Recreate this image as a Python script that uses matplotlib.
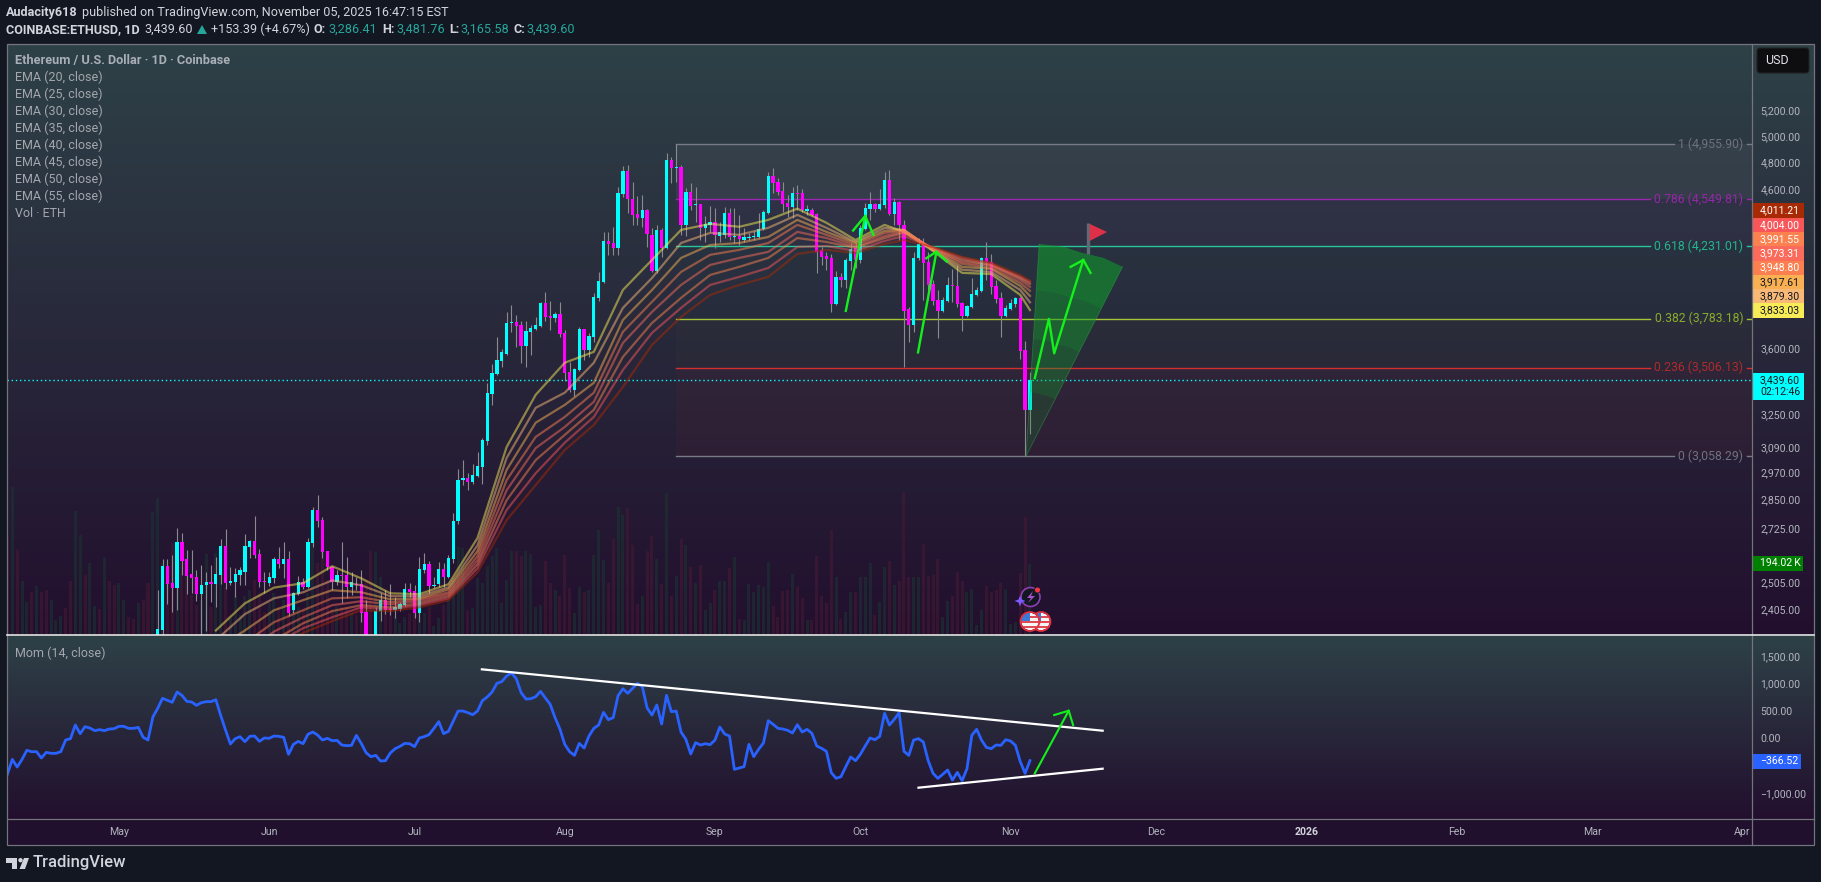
import numpy as np
import matplotlib
matplotlib.use("Agg")
import matplotlib.pyplot as plt
from matplotlib.patches import Circle, Polygon, Rectangle, FancyBboxPatch
from matplotlib.ticker import NullLocator
from matplotlib.transforms import ScaledTranslation

plt.rcParams["font.family"] = ["Roboto", "DejaVu Sans"]

# Days are counted from May 1 2025
opens = [2200, 2335, 2579, 2511, 2493, 2676, 2607, 2547, 2535, 2470, 2504, 2516, 2508, 2543, 2660, 2512, 2516, 2543, 2555, 2656,
         2680, 2627, 2520, 2512, 2531, 2607, 2587, 2607, 2410, 2470, 2516, 2496, 2672, 2812, 2770, 2640, 2575, 2516, 2543, 2543,
         2496, 2508, 2508, 2402, 2230, 2250, 2406, 2447, 2414, 2410, 2414, 2427, 2488, 2481, 2398, 2563, 2587, 2500, 2508, 2567,
         2535, 2607, 2765, 2949, 2955, 2937, 2965, 3006, 3130, 3367, 3472, 3543, 3583, 3757, 3763, 3746, 3626, 3706, 3722, 3740,
         3876, 3799, 3787, 3811, 3700, 3483, 3389, 3494, 3722, 3604, 3677, 3906, 4004, 4265, 4252, 4220, 4588, 4753, 4552, 4448,
         4420, 4476, 4306, 4072, 4339, 4220, 4834, 4775, 4783, 4373, 4602, 4510, 4517, 4353, 4373, 4393, 4299, 4306, 4455, 4292,
         4299, 4272, 4285, 4292, 4292, 4346, 4455, 4717, 4674, 4610, 4524, 4497, 4595, 4595, 4469, 4476, 4448, 4207, 4168, 4155,
         3870, 4035, 4016, 4135, 4220, 4142, 4346, 4484, 4517, 4484, 4510, 4689, 4448, 4531, 4373, 3839, 3746, 4155, 4246, 4129,
         3992, 3894, 3830, 3888, 3985, 3979, 3876, 3799, 3852, 3924, 3948, 4155, 4129, 3979, 3906, 3799, 3839, 3870, 3906, 3604,
         3286.41]
highs = [2485, 2608, 2607, 2623, 2735, 2717, 2643, 2643, 2563, 2583, 2555, 2583, 2615, 2688, 2730, 2575, 2570, 2575, 2709, 2685,
         2787, 2648, 2555, 2555, 2615, 2656, 2676, 2640, 2480, 2539, 2531, 2695, 2825, 2878, 2783, 2640, 2579, 2563, 2676, 2615,
         2555, 2535, 2563, 2447, 2300, 2420, 2473, 2485, 2508, 2458, 2440, 2512, 2512, 2504, 2615, 2631, 2599, 2535, 2595, 2591,
         2623, 2800, 2998, 3039, 2978, 3020, 3078, 3145, 3425, 3527, 3677, 3609, 3822, 3864, 3805, 3770, 3770, 3746, 3793, 3882,
         3942, 3888, 3822, 3882, 3716, 3538, 3505, 3734, 3725, 3700, 3936, 4066, 4324, 4324, 4360, 4638, 4791, 4799, 4674, 4573,
         4581, 4484, 4353, 4373, 4353, 4888, 4857, 4956, 4799, 4631, 4667, 4638, 4517, 4434, 4503, 4490, 4393, 4497, 4490, 4490,
         4441, 4353, 4320, 4330, 4455, 4476, 4748, 4775, 4703, 4674, 4581, 4638, 4653, 4624, 4510, 4490, 4455, 4226, 4194, 4181,
         4072, 4060, 4155, 4252, 4252, 4373, 4524, 4602, 4524, 4624, 4748, 4761, 4559, 4538, 4407, 3852, 4194, 4285, 4285, 4194,
         4016, 3954, 3912, 4035, 4085, 4110, 3882, 3864, 4028, 3973, 4161, 4259, 4181, 4016, 3942, 3864, 3900, 3912, 3912, 3655,
         3481.76]
lows = [2150, 2318, 2432, 2403, 2410, 2543, 2470, 2473, 2443, 2318, 2333, 2439, 2420, 2508, 2488, 2505, 2458, 2505, 2505, 2610,
        2610, 2496, 2473, 2500, 2512, 2570, 2531, 2387, 2399, 2466, 2488, 2492, 2656, 2740, 2610, 2563, 2485, 2504, 2435, 2454,
        2466, 2485, 2365, 2200, 2190, 2230, 2369, 2395, 2391, 2380, 2406, 2424, 2458, 2380, 2365, 2551, 2473, 2492, 2496, 2496,
        2531, 2591, 2753, 2924, 2900, 2930, 2960, 2930, 3112, 3310, 3467, 3510, 3577, 3706, 3620, 3533, 3510, 3577, 3716, 3734,
        3770, 3716, 3763, 3677, 3435, 3378, 3356, 3489, 3549, 3565, 3649, 3890, 3998, 4175, 4175, 4175, 4566, 4455, 4373, 4373,
        4360, 4226, 4066, 4060, 4161, 4214, 4667, 4674, 4306, 4299, 4476, 4393, 4272, 4259, 4324, 4220, 4259, 4285, 4272, 4252,
        4239, 4259, 4272, 4270, 4285, 4339, 4448, 4595, 4581, 4462, 4427, 4420, 4476, 4462, 4441, 4434, 4060, 4110, 4080, 3822,
        3864, 3973, 3966, 4080, 4091, 4123, 4339, 4407, 4462, 4476, 4490, 4441, 4373, 4272, 3510, 3649, 3706, 4142, 3894, 3894,
        3864, 3671, 3822, 3882, 3882, 3852, 3711, 3793, 3846, 3918, 3942, 4016, 3930, 3876, 3677, 3793, 3833, 3852, 3555, 3058.29,
        3165.58]
closes = [2340, 2579, 2508, 2493, 2676, 2600, 2539, 2531, 2470, 2504, 2516, 2508, 2547, 2660, 2512, 2520, 2547, 2562, 2660, 2680,
          2623, 2516, 2516, 2535, 2607, 2587, 2607, 2399, 2473, 2516, 2496, 2676, 2812, 2765, 2635, 2575, 2516, 2543, 2539, 2496,
          2516, 2505, 2398, 2225, 2225, 2406, 2447, 2410, 2410, 2420, 2431, 2488, 2477, 2398, 2567, 2587, 2500, 2505, 2567, 2535,
          2610, 2765, 2949, 2955, 2937, 2970, 3011, 3135, 3373, 3478, 3549, 3593, 3757, 3763, 3740, 3626, 3711, 3728, 3746, 3876,
          3793, 3787, 3811, 3694, 3478, 3389, 3500, 3722, 3604, 3683, 3912, 4010, 4265, 4246, 4220, 4595, 4753, 4552, 4441, 4420,
          4476, 4312, 4072, 4339, 4220, 4834, 4775, 4783, 4373, 4602, 4503, 4517, 4353, 4380, 4393, 4306, 4324, 4455, 4292, 4299,
          4279, 4292, 4292, 4299, 4346, 4462, 4717, 4667, 4602, 4517, 4497, 4595, 4588, 4476, 4484, 4441, 4195, 4161, 4149, 3870,
          4035, 4016, 4142, 4214, 4142, 4353, 4490, 4517, 4484, 4517, 4689, 4448, 4531, 4373, 3830, 3746, 4155, 4246, 4123, 3985,
          3888, 3830, 3894, 3985, 3979, 3870, 3799, 3858, 3930, 3954, 4155, 4129, 3973, 3900, 3799, 3846, 3876, 3906, 3599, 3286.41,
          3439.60]

ema_days = [20, 26, 32, 38, 44, 50, 56, 62, 68, 74, 80, 86, 92, 98, 104, 110, 116, 122, 128, 134, 140, 146, 152, 158, 162, 168, 174, 180, 186, 188]
ema20 = [2335, 2435, 2495, 2512, 2579, 2531, 2473, 2470, 2508, 2694, 3101, 3362, 3533, 3593, 3954, 4142, 4339, 4380, 4360, 4407, 4484, 4387, 4272, 4373, 4326, 4200, 4060, 4053, 3924, 3833.03]
ema25 = [2300, 2395, 2454, 2477, 2523, 2504, 2462, 2462, 2496, 2664, 3049, 3295, 3373, 3533, 3846, 4028, 4252, 4319, 4306, 4353, 4441, 4353, 4259, 4353, 4339, 4203, 4080, 4066, 3954, 3879.30]
ema30 = [2270, 2335, 2409, 2447, 2485, 2477, 2450, 2454, 2488, 2640, 2993, 3220, 3310, 3425, 3775, 3954, 4155, 4239, 4252, 4292, 4407, 4326, 4252, 4333, 4339, 4207, 4098, 4085, 3979, 3917.61]
ema35 = [2240, 2290, 2365, 2409, 2454, 2458, 2439, 2450, 2477, 2620, 2946, 3150, 3249, 3373, 3706, 3882, 4066, 4175, 4207, 4252, 4373, 4306, 4239, 4319, 4333, 4211, 4117, 4091, 3998, 3948.80]
ema40 = [2215, 2250, 2331, 2383, 2428, 2443, 2431, 2443, 2470, 2603, 2900, 3096, 3199, 3326, 3643, 3822, 3985, 4110, 4155, 4194, 4326, 4285, 4226, 4299, 4326, 4215, 4129, 4104, 4016, 3973.31]
ema45 = [2190, 2215, 2300, 2361, 2406, 2428, 2420, 2435, 2462, 2587, 2856, 3039, 3160, 3285, 3565, 3757, 3906, 4047, 4098, 4155, 4285, 4259, 4220, 4285, 4319, 4218, 4142, 4110, 4028, 3991.55]
ema50 = [2170, 2190, 2285, 2343, 2383, 2420, 2413, 2428, 2454, 2571, 2813, 2978, 3122, 3249, 3494, 3700, 3846, 3985, 4035, 4091, 4226, 4233, 4200, 4266, 4299, 4222, 4155, 4117, 4035, 4004.00]
ema55 = [2150, 2165, 2270, 2326, 2369, 2409, 2406, 2420, 2447, 2555, 2769, 2924, 3087, 3209, 3403, 3632, 3793, 3924, 3985, 4035, 4181, 4207, 4187, 4246, 4272, 4226, 4161, 4123, 4047, 4011.21]
ema_series = [ema20, ema25, ema30, ema35, ema40, ema45, ema50, ema55]
ema_colors = ["#f7eb58", "#f8b977", "#f9b052", "#fb7f4f", "#fa6b5b", "#fb8250", "#f9565a", "#a82a05"]

volumes = [268, 403, 232, 147, 91, 116, 134, 116, 123, 96, 41, 53, 73, 147, 337, 273, 164, 196, 79, 70, 212, 147, 137,
           141, 96, 50, 43, 86, 96, 143, 334, 373, 196, 150, 250, 214, 218, 164, 109, 82, 96, 221, 77, 223, 168, 132, 46,
           105, 55, 105, 123, 150, 114, 64, 86, 114, 77, 96, 150, 96, 77, 68, 114, 268, 196, 287, 150, 68, 77, 77, 73, 59,
           55, 150, 150, 230, 225, 159, 96, 77, 50, 32, 50, 59, 109, 96, 59, 77, 25, 46, 82, 96, 155, 241, 237, 68, 73, 155,
           141, 187, 214, 237, 86, 150, 228, 230, 216, 230, 221, 77, 82, 203, 141, 123, 105, 218, 127, 59, 132, 118, 123, 218,
           287, 205, 141, 261, 350, 328, 346, 246, 85, 106, 228, 270, 207, 139, 387, 105, 161, 261, 246, 185, 143, 191, 68, 86,
           123, 147, 147, 182, 212, 43, 41, 139, 116, 136, 130, 198, 79, 50, 120, 123, 167, 130, 100, 41, 41, 216, 105, 88, 287,
           157, 44, 64, 116, 116, 157, 157, 196, 55, 91, 184, 203, 137, 146, 389, 159, 157, 157, 248, 161, 164, 207, 50, 94, 105,
           173, 147, 116, 125, 27, 68, 134, 118, 123, 143, 125, 30, 36, 170, 321, 194.02]
# Up or down for the volume bars whose candles sit below the visible range
hidden_dirs = "rgrggrgrrgggrrggrggrgrrggrrgrrg"

mom_values = [-611, -344, -484, -344, -179, -204, -204, -319, -216, -234, -234, -204, 9, 34, 283, 125, 253, 228, 180, 198, 180, 210, 216, 259,
              259, 222, 222, 240, 58, 9, 429, 587, 770, 733, 697, 885, 824, 715, 703, 642, 690, 709, 709, 745, 459, 192, -64, 34, 70, -21,
              76, 82, -15, 46, 40, 82, 76, 58, -252, -70, -15, -58, 113, 155, 100, 9, 40, -3, 3, -82, -94, -88, 94, -52, -222, -295, -271,
              -374, -368, -228, -149, -106, -52, -58, -112, 46, 70, 107, 222, 344, 125, 167, 356, 538, 538, 508, 471, 538, 727, 794, 885,
              1043, 1074, 1177, 1232, 1128, 873, 757, 763, 800, 897, 776, 660, 417, 210, -70, -204, -271, -52, -137, 82, 222, 283, 514,
              380, 417, 818,
              946, 861, 952, 1043, 982, 593, 465, 648, 301, 824, 526, 538, 155, 21, -246, -39, -82, -58, -76, 9, 246, 119, 82, -526, -502,
              -477, -70, -295, -161, -46, 362, 295, 222, 210, 186, 137, 289, 155, 204, 131, -100, -143, -198, -587, -690, -660, -477, -301,
              -368, -252, -100, 46, 15, 76, 496, 283, 386, 508, -198, -271, 9, 34, -27, -368, -599, -690, -617, -538, -721, -581, -733, -514,
              94, 204, 9, -125, -149, -82, -88, 15, -9, -88, -386, -599, -366.52]

fib_levels = ["1", "0.786", "0.618", "0.382", "0.236", "0"]
fib_prices = [4955.90, 4549.81, 4231.01, 3783.18, 3506.13, 3058.29]
fib_colors = ["#787b86", "#9c27b0", "#26c89a", "#a5c435", "#d32f2f", "#787b86"]
fib_text_colors = ["#6f727c", "#9527a8", "#22b78d", "#8bad2a", "#b02a2a", "#6f727c"]
fib_fill_alpha = [0.13, 0.04, 0.015, 0.02, 0.05]
fib_line_ends = [321, 316, 316, 316, 316, 321]

price_ticks = [5200, 5000, 4800, 4600, 3600, 3250, 3090, 2970, 2850, 2725, 2505, 2405]
mom_ticks = [1500, 1000, 500, 0, -500, -1000]
month_days = [0, 31, 61, 92, 123, 153, 184, 214, 245, 276, 304, 335]
month_labels = ["May", "Jun", "Jul", "Aug", "Sep", "Oct", "Nov", "Dec", "2026", "Feb", "Mar", "Apr"]

fan_apex = (187.2, 3058.29)
fan_arc_days = [189.9, 195.1, 198.8, 203.2, 207.1]
fan_arc_prices = [4246, 4226, 4187, 4155, 4098]

W, H = 1821, 882
LEFT, RIGHT, SCALE_R = 6.5, 1752, 1813.5
MAIN_T, MAIN_B = 44, 635
MOM_T, MOM_B = 636, 819
TIME_B = 845
XLIM = (-23.2, 337.0)


def rect(x0, y_top, x1, y_bot):
    return [x0 / W, 1 - y_bot / H, (x1 - x0) / W, (y_bot - y_top) / H]


fig = plt.figure(figsize=(W / 100, H / 100), dpi=100, facecolor="#131722")

# Pane backgrounds
grad = np.linspace(0, 1, 256)[:, None, None]
top_col = np.array([46, 65, 71]) / 255
bot_col = np.array([34, 15, 46]) / 255
grad_img = top_col + (bot_col - top_col) * grad
for y0, y1 in ((MAIN_T, MAIN_B), (MOM_T, MOM_B)):
    bg = fig.add_axes(rect(LEFT, y0, SCALE_R, y1), zorder=0)
    bg.imshow(grad_img, aspect="auto")
    bg.axis("off")
time_bg = fig.add_axes(rect(LEFT, MOM_B, SCALE_R, TIME_B), zorder=0, facecolor="#20102e")
time_bg.set_xticks([])
time_bg.set_yticks([])

# Volume
ax_vol = fig.add_axes(rect(LEFT, MAIN_T, RIGHT, MAIN_B), zorder=1, facecolor="none")
vol_days = np.arange(188 - len(volumes) + 1, 189)
candle_days = np.arange(188 - len(closes) + 1, 189)
vol_up = []
for i, d in enumerate(vol_days):
    if d < candle_days[0]:
        vol_up.append(hidden_dirs[i] == "g")
    else:
        k = d - candle_days[0]
        vol_up.append(closes[k] >= opens[k])
vol_cols = ["#1b3432" if u else "#451a33" for u in vol_up]
ax_vol.bar(vol_days, volumes, width=0.62, color=vol_cols, alpha=0.6, linewidth=0)
ax_vol.set_xlim(*XLIM)
ax_vol.set_ylim(0, 1611)
ax_vol.axis("off")

# Price pane
ax = fig.add_axes(rect(LEFT, MAIN_T, RIGHT, MAIN_B), zorder=2, facecolor="none")
ax.set_yscale("log")
ax.set_xlim(*XLIM)
ax.set_ylim(2318.6, 5785)

for i in range(5):
    ax.fill_between([115, XLIM[1]], fib_prices[i + 1], fib_prices[i], color=fib_colors[i], alpha=fib_fill_alpha[i], linewidth=0, zorder=1)
for price, col, end in zip(fib_prices, fib_colors, fib_line_ends):
    ax.plot([115, end], [price, price], color=col, lw=1.0, zorder=2)
    ax.plot([336.0, XLIM[1]], [price, price], color=col, lw=1.0, zorder=2)
for lvl, price, col in zip(fib_levels, fib_prices, fib_text_colors):
    ax.text(335.2, price, f"{lvl} ({price:,.2f})", color=col, fontsize=8.8, ha="right", va="center", zorder=2)

opens_a, highs_a, lows_a, closes_a = map(np.array, (opens, highs, lows, closes))
candle_cols = ["#00ffff" if c >= o else "#ff00ff" for o, c in zip(opens_a, closes_a)]
ax.vlines(candle_days, lows_a, highs_a, color="#8a8a90", lw=0.8, zorder=3)
ax.bar(candle_days, np.abs(closes_a - opens_a), bottom=np.minimum(opens_a, closes_a), width=0.68,
       color=candle_cols, linewidth=0, zorder=4)
for series, col in zip(ema_series, ema_colors):
    ax.plot(ema_days, series, color=col, lw=1.6, alpha=0.5, zorder=5, solid_joinstyle="round")

ax.axhline(closes[-1], color="#00ffff", lw=1.0, ls=(0, (1, 2)), zorder=3)

# Drawn fan, denser towards the arc
arc_d = np.array(fan_arc_days)
arc_p = np.log(fan_arc_prices)
for s in (0.0, 0.3, 0.55, 0.78):
    inner_d = fan_apex[0] + s * (arc_d - fan_apex[0])
    inner_p = np.exp(np.log(fan_apex[1]) + s * (arc_p - np.log(fan_apex[1])))
    xs = np.concatenate([arc_d, inner_d[::-1]])
    ys = np.concatenate([fan_arc_prices, inner_p[::-1]])
    ax.add_patch(Polygon(np.column_stack([xs, ys]), closed=True, facecolor="#129a2c", edgecolor="none", alpha=0.2, zorder=6))
ax.plot([fan_apex[0], fan_arc_days[0]], [fan_apex[1], fan_arc_prices[0]], color="#2fa04a", lw=0.6, alpha=0.5, zorder=6)
ax.plot([fan_apex[0], fan_arc_days[-1]], [fan_apex[1], fan_arc_prices[-1]], color="#2fa04a", lw=0.6, alpha=0.5, zorder=6)

# Arrows and flag
arrow_col = "#14f01c"
ax.plot([150, 154], [3828, 4434], color=arrow_col, lw=1.7, zorder=7)
ax.plot([151.5, 154, 155.7], [4335, 4434, 4306], color=arrow_col, lw=1.7, zorder=7)
ax.plot([164.9, 168.7], [3590, 4195], color=arrow_col, lw=1.7, zorder=7)
ax.plot([166.6, 168.7, 170.8], [4153, 4195, 4132], color=arrow_col, lw=1.7, zorder=7)
ax.plot([189.0, 191.9, 193.0, 199.0], [3450, 3781, 3585, 4142], color=arrow_col, lw=1.7, zorder=7)
ax.plot([196.4, 199.0, 200.5], [4098, 4142, 4060], color=arrow_col, lw=1.7, zorder=7)
ax.plot([199.9, 199.9], [4181, 4387], color="#5d6b74", lw=2.4, zorder=7, solid_capstyle="butt")
ax.add_patch(Polygon([[200.3, 4380], [203.9, 4325], [200.3, 4265]], closed=True, facecolor="#df3049", edgecolor="none", zorder=7))

ax.set_yticks(price_ticks, [f"{p:,.2f}" for p in price_ticks])
ax.yaxis.set_minor_locator(NullLocator())
ax.yaxis.tick_right()
ax.tick_params(axis="y", length=0, pad=6, labelsize=7.6, labelcolor="#b2b5be")
ax.tick_params(axis="x", bottom=False, labelbottom=False)
for spine in ax.spines.values():
    spine.set_visible(False)

# Momentum pane
ax_mom = fig.add_axes(rect(LEFT, MOM_T, RIGHT, MOM_B), zorder=2, facecolor="none")
mom_days = np.arange(188 - len(mom_values) + 1, 189)
ax_mom.plot(mom_days, mom_values, color="#2962ff", lw=2.0, solid_joinstyle="round")
ax_mom.plot([74.9, 203], [1299, 179], color="white", lw=1.6)
ax_mom.plot([165, 203], [-861, -514], color="white", lw=1.6)
ax_mom.plot([189, 196], [-599, 544], color=arrow_col, lw=1.5)
ax_mom.plot([193, 196, 196.9], [465, 544, 283], color=arrow_col, lw=1.5)
ax_mom.set_xlim(*XLIM)
ax_mom.set_ylim(-1432, 1907)
ax_mom.set_yticks(mom_ticks, [f"{v:,.2f}".replace("-", "\u2212") for v in mom_ticks])
ax_mom.yaxis.tick_right()
ax_mom.set_xticks(month_days, month_labels)
ax_mom.tick_params(axis="y", length=0, pad=6, labelsize=7.6, labelcolor="#b2b5be")
ax_mom.tick_params(axis="x", length=0, pad=6, labelsize=7.6, labelcolor="#b2b5be")
for lab in ax_mom.get_xticklabels():
    if lab.get_text() == "2026":
        lab.set_fontweight("bold")
        lab.set_color("#d1d4dc")
for spine in ax_mom.spines.values():
    spine.set_visible(False)

# The scale labels sit a little above their levels
label_shift = ScaledTranslation(0, 2.5 / 100, fig.dpi_scale_trans)
for a in (ax, ax_mom):
    for lab in a.get_yticklabels():
        lab.set_transform(lab.get_transform() + label_shift)

# Pixel overlay for frame, header, legend and price tags
ov = fig.add_axes([0, 0, 1, 1], zorder=5, facecolor="none")
ov.set_xlim(0, W)
ov.set_ylim(H, 0)
ov.axis("off")


def txt(x, y, s, **kw):
    kw.setdefault("color", "#d1d4dc")
    kw.setdefault("fontsize", 9.1)
    kw.setdefault("va", "center")
    ov.text(x, y, s, **kw)


ov.add_patch(Rectangle((LEFT, MAIN_T), SCALE_R - LEFT, TIME_B - MAIN_T, fill=False, ec="#74757c", lw=0.9))
ov.plot([RIGHT, RIGHT], [MAIN_T, TIME_B], color="#74757c", lw=0.9)
ov.plot([LEFT, SCALE_R], [MOM_B, MOM_B], color="#74757c", lw=0.9)
ov.plot([LEFT, SCALE_R], [MAIN_B, MAIN_B], color="#e6e6e6", lw=1.2)

txt(6, 12.5, "Audacity618", fontweight="bold")
txt(82, 12.5, "published on TradingView.com, November 05, 2025 16:47:15 EST")
txt(6, 29.5, "COINBASE:ETHUSD, 1D", fontweight="bold")
txt(144, 29.5, "3,439.60")
ov.add_patch(Polygon([[197, 34], [207, 34], [202, 25]], closed=True, fc="#26a69a", ec="none"))
txt(211, 29.5, "+153.39 (+4.67%)")
for x, s in ((314, "O:"), (382, "H:"), (449, "L:"), (514, "C:")):
    txt(x, 29.5, s, fontweight="bold")
for x, s in ((328, "3,286.41"), (396, "3,481.76"), (460, "3,165.58"), (526, "3,439.60")):
    txt(x, 29.5, s, color="#26a69a")

legend_rows = ["EMA (20, close)", "EMA (25, close)", "EMA (30, close)", "EMA (35, close)", "EMA (40, close)",
               "EMA (45, close)", "EMA (50, close)", "EMA (55, close)", "Vol \u00b7 ETH"]
txt(15, 60.5, "Ethereum / U.S. Dollar \u00b7 1D \u00b7 Coinbase", color="#a9adb5", fontweight="bold", fontsize=9.2)
for i, row in enumerate(legend_rows):
    txt(15, 77.5 + 17 * i, row, color="#a3a6ad", fontsize=9)
txt(15, 653, "Mom (14, close)", color="#a3a6ad", fontsize=9)

# Price tags on the scale
ov.add_patch(FancyBboxPatch((1757, 48), 52, 25, boxstyle="round,pad=0,rounding_size=3", fc="#0e0e10", ec="#222226", lw=0.8))
txt(1765, 61, "USD", color="#e4e4e8", fontsize=9)
tag_cols = ema_colors[::-1]
tag_text = ["white", "white", "white", "white", "white", "#131722", "#131722", "#131722"]
for i, (series, col, tc) in enumerate(zip(ema_series[::-1], tag_cols, tag_text)):
    yc = 210.5 + 14.3 * i
    ov.add_patch(Rectangle((1753, yc - 7.2), 51, 14.4, fc=col, ec="none"))
    txt(1760, yc, f"{series[-1]:,.2f}", color=tc, fontsize=7.6)
ov.add_patch(Rectangle((1753, 373), 51, 27, fc="#00ffff", ec="none"))
txt(1760, 380, f"{closes[-1]:,.2f}", color="#131722", fontsize=7.6)
txt(1760, 392, "02:12:46", color="#131722", fontsize=7.6)
ov.add_patch(Rectangle((1753, 556), 50, 15, fc="#008000", ec="none"))
txt(1760, 563.5, "194.02\u2009K", color="white", fontsize=7.6)
ov.add_patch(Rectangle((1753, 754), 48, 15, fc="#2962ff", ec="none"))
txt(1760, 761.5, "\u2212366.52", color="white", fontsize=7.6)

# Event icons
ov.add_patch(Circle((1030.5, 597), 9.5, fc="#131722", ec="#8e3fb5", lw=1.2))
ov.add_patch(Polygon([[1033, 591], [1027, 598], [1031, 598], [1028, 603], [1035, 596], [1031, 596]], closed=True, fc="#a74fcf", ec="none"))
ov.add_patch(Circle((1037.5, 590), 3, fc="#f23645", ec="#131722", lw=0.6))
ov.add_patch(Polygon([[1020, 595.5], [1021.5, 599.5], [1025.5, 601], [1021.5, 602.5], [1020, 606.5], [1018.5, 602.5], [1014.5, 601], [1018.5, 599.5]],
                     closed=True, fc="#7a5cff", ec="none"))
for cx in (1041, 1030):
    disc = Circle((cx, 621.5), 9, fc="#f5f5f5", ec="#131722", lw=0.5)
    ov.add_patch(disc)
    for sy in (616, 621, 626):
        stripe = Rectangle((cx - 10, sy), 20, 2.2, fc="#e04a55", ec="none")
        ov.add_patch(stripe)
        stripe.set_clip_path(disc)
    canton = Rectangle((cx - 10, 612), 10, 9, fc="#3b78d8", ec="none")
    ov.add_patch(canton)
    canton.set_clip_path(disc)
    ov.add_patch(Circle((cx, 621.5), 9.5, fill=False, ec="#e8303f", lw=1.2))

# TradingView logo
logo_col = "#d1d4dc"
ov.add_patch(Polygon([[6, 858], [17, 858], [17, 869], [11.5, 869], [11.5, 862.5], [6, 862.5]], closed=True, fc=logo_col, ec="none"))
ov.add_patch(Circle((20.5, 860.2), 2.2, fc=logo_col, ec="none"))
ov.add_patch(Polygon([[24, 858], [29, 858], [25, 869], [19.5, 869]], closed=True, fc=logo_col, ec="none"))
txt(33, 863, "TradingView", color=logo_col, fontsize=12, fontweight="medium")

fig.savefig("out.png", dpi=100, facecolor=fig.get_facecolor())
